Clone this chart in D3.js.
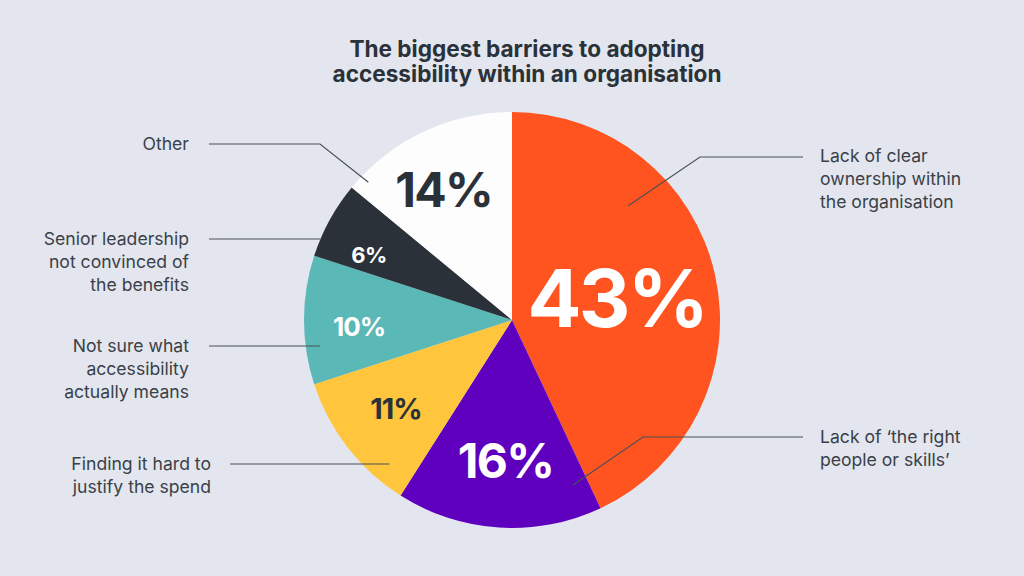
<html>
<head>
<meta charset="utf-8">
<title>Barriers to adopting accessibility</title>
<style>
  body { margin: 0; background: #e3e6ee; }
  svg { display: block; }
</style>
<script src="https://d3js.org/d3.v7.min.js"></script>
</head>
<body>
<svg width="1024" height="576"></svg>
<script>
// data
var categories = [
  "Lack of clear ownership within the organisation",
  "Lack of \u2018the right people or skills\u2019",
  "Finding it hard to justify the spend",
  "Not sure what accessibility actually means",
  "Senior leadership not convinced of the benefits",
  "Other"
];
var values = [43, 16, 11, 10, 6, 14];
var labelLines = [
  ["Lack of clear", "ownership within", "the organisation"],
  ["Lack of \u2018the right", "people or skills\u2019"],
  ["Finding it hard to", "justify the spend"],
  ["Not sure what", "accessibility", "actually means"],
  ["Senior leadership", "not convinced of", "the benefits"],
  ["Other"]
];
var title = ["The biggest barriers to adopting", "accessibility within an organisation"];

// styling
var colors = ["#ff5420", "#5e00be", "#ffc53d", "#5ab8b7", "#2a3138", "#fdfdfd"];
var pctColors = ["#fff", "#fff", "#2a3138", "#fff", "#fff", "#2a3138"];
var pctSizes = [80, 48, 29, 26, 22, 48];
var pctRadius = [107, 141, 146, 153, 157, 147];
var pctShift = [1, -1, 0.5, -2.5, -4.5, -2.5];   // degrees off the slice middle

// callouts: side, text x, first line y, leader line y, line start x, elbow x, end angle/radius
var callouts = [
  {side: "right", tx: 820, ty: 155, ly: 157, lx: 803, elbow: 700, a: 45.5, r: 163},
  {side: "right", tx: 820, ty: 436, ly: 437, lx: 803, elbow: 643, a: 159.7, r: 176},
  {side: "left", tx: 211, ty: 463, ly: 464, lx: 230, elbow: null, a: 220.5, r: 189},
  {side: "left", tx: 189, ty: 345, ly: 346, lx: 209, elbow: null, a: 262.3, r: 194},
  {side: "left", tx: 189, ty: 238, ly: 239, lx: 209, elbow: null, a: 292.9, r: 208},
  {side: "left", tx: 189, ty: 143, ly: 144, lx: 209, elbow: 320, a: 313.8, r: 199}
];

var svg = d3.select("svg"),
    cx = 512, cy = 320, radius = 208,
    textFont = "Inter, 'Open Sans', sans-serif";

svg.append("rect").attr("width", 1024).attr("height", 576).attr("fill", "#e3e6ee");

svg.append("text")
    .attr("x", 527).attr("y", 48)
    .attr("text-anchor", "middle")
    .style("font-family", textFont)
    .style("font-weight", 700)
    .style("font-size", "22.6px")
    .attr("fill", "#2a3138")
    .selectAll("tspan")
    .data(title)
    .enter().append("tspan")
      .attr("x", 527)
      .attr("dy", (d, i) => i ? 25 : 0)
      .attr("dominant-baseline", "central")
      .text(d => d);

var pie = d3.pie().sort(null).value(d => d)(values);
var arc = d3.arc().innerRadius(0).outerRadius(radius);

var g = svg.append("g").attr("transform", `translate(${cx},${cy})`);

g.selectAll("path.slice")
  .data(pie)
  .enter().append("path")
    .attr("class", "slice")
    .attr("d", arc)
    .attr("fill", (d, i) => colors[i]);

// leader lines
var rad = Math.PI / 180;
svg.append("g").selectAll("path")
  .data(callouts)
  .enter().append("path")
    .attr("fill", "none")
    .attr("stroke", "#4a5058")
    .attr("stroke-width", 1.2)
    .attr("d", c => {
      var p = d3.pointRadial(c.a * rad, c.r);
      var ex = cx + p[0], ey = cy + p[1];
      var pts = c.elbow == null
        ? [[c.lx, c.ly], [ex, c.ly]]
        : [[c.lx, c.ly], [c.elbow, c.ly], [ex, ey]];
      return d3.line()(pts);
    });

// percentage labels
g.selectAll("text.pct")
  .data(pie)
  .enter().append("text")
    .attr("class", "pct")
    .attr("transform", (d, i) => {
      var a = (d.startAngle + d.endAngle) / 2 + pctShift[i] * rad;
      var p = d3.pointRadial(a, pctRadius[i]);
      return `translate(${p[0]},${p[1]})`;
    })
    .attr("text-anchor", "middle")
    .attr("dy", "0.36em")
    .style("font-family", textFont)
    .style("font-weight", 700)
    .style("font-size", (d, i) => pctSizes[i] + "px")
    .style("letter-spacing", "-0.035em")
    .attr("fill", (d, i) => pctColors[i])
    .text(d => d.data + "%");

// category labels
svg.append("g").selectAll("text")
  .data(callouts)
  .enter().append("text")
    .attr("text-anchor", c => c.side == "left" ? "end" : "start")
    .style("font-family", textFont)
    .style("font-size", "17.6px")
    .attr("fill", "#3a4048")
    .each(function(c, i) {
      d3.select(this).selectAll("tspan")
        .data(labelLines[i])
        .enter().append("tspan")
          .attr("x", c.tx)
          .attr("y", (d, j) => c.ty + j * 23.3)
          .attr("dominant-baseline", "central")
          .text(d => d);
    });
</script>
</body>
</html>
